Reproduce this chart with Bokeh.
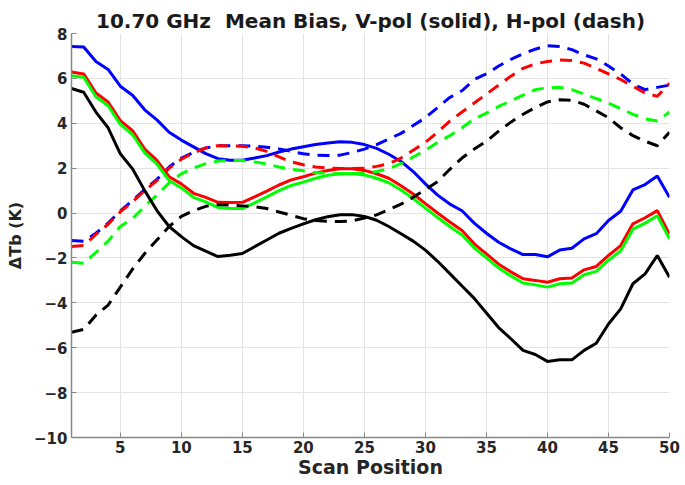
from bokeh.plotting import figure
from bokeh.embed import file_html
from bokeh.resources import INLINE
from bokeh.models import FixedTicker

scan = list(range(1, 51))

blue_v = [7.42, 7.40, 6.75, 6.40, 5.65, 5.25, 4.60, 4.15, 3.60, 3.25,
          2.95, 2.65, 2.42, 2.35, 2.35, 2.45, 2.56, 2.72, 2.85, 2.95,
          3.05, 3.12, 3.18, 3.15, 3.05, 2.88, 2.62, 2.30, 1.85, 1.30,
          0.80, 0.40, 0.10, -0.45, -0.90, -1.30, -1.60, -1.85, -1.85, -1.95,
          -1.65, -1.57, -1.15, -0.92, -0.33, 0.08, 1.03, 1.27, 1.65, 0.70]
red_v = [6.28, 6.20, 5.35, 4.95, 4.12, 3.67, 2.85, 2.35, 1.62, 1.30,
         0.88, 0.70, 0.48, 0.47, 0.48, 0.72, 0.98, 1.25, 1.48, 1.62,
         1.78, 1.90, 1.97, 1.97, 1.90, 1.75, 1.55, 1.22, 0.85, 0.42,
         0.00, -0.40, -0.78, -1.37, -1.82, -2.28, -2.62, -2.93, -3.00, -3.08,
         -2.93, -2.89, -2.53, -2.38, -1.89, -1.45, -0.48, -0.21, 0.11, -0.95]
green_v = [6.12, 6.05, 5.18, 4.78, 3.95, 3.50, 2.68, 2.18, 1.45, 1.12,
           0.70, 0.50, 0.25, 0.20, 0.20, 0.45, 0.72, 1.00, 1.23, 1.38,
           1.55, 1.68, 1.75, 1.76, 1.70, 1.55, 1.35, 1.03, 0.65, 0.22,
           -0.20, -0.60, -0.98, -1.55, -2.00, -2.45, -2.80, -3.12, -3.20, -3.30,
           -3.15, -3.12, -2.75, -2.60, -2.10, -1.68, -0.72, -0.45, -0.12, -1.15]
black_v = [5.55, 5.38, 4.50, 3.80, 2.64, 1.97, 1.00, 0.11, -0.60, -1.05,
           -1.45, -1.70, -1.94, -1.88, -1.80, -1.50, -1.20, -0.90, -0.68, -0.48,
           -0.30, -0.16, -0.08, -0.07, -0.15, -0.32, -0.60, -0.92, -1.25, -1.65,
           -2.15, -2.70, -3.25, -3.80, -4.45, -5.10, -5.60, -6.12, -6.30, -6.61,
           -6.54, -6.54, -6.12, -5.80, -4.94, -4.27, -3.15, -2.71, -1.89, -2.86]

blue_h = [-1.22, -1.26, -0.90, -0.45, 0.10, 0.55, 1.05, 1.50, 2.05, 2.45,
          2.70, 2.90, 3.00, 3.00, 3.00, 2.98, 2.93, 2.86, 2.75, 2.64,
          2.58, 2.56, 2.58, 2.70, 2.85, 3.05, 3.30, 3.55, 3.90, 4.25,
          4.70, 5.15, 5.45, 5.95, 6.20, 6.55, 6.85, 7.10, 7.30, 7.46,
          7.42, 7.28, 7.05, 6.87, 6.55, 6.20, 5.75, 5.50, 5.60, 5.70]
red_h = [-1.49, -1.45, -0.95, -0.50, 0.05, 0.50, 1.00, 1.45, 2.00, 2.40,
         2.68, 2.90, 3.00, 3.00, 2.98, 2.90, 2.75, 2.50, 2.28, 2.15,
         2.05, 2.00, 1.98, 1.98, 2.00, 2.08, 2.20, 2.45, 2.80, 3.15,
         3.60, 4.10, 4.50, 4.90, 5.30, 5.70, 6.10, 6.45, 6.65, 6.75,
         6.82, 6.80, 6.68, 6.45, 6.20, 5.95, 5.65, 5.35, 5.20, 5.78]
green_h = [-2.19, -2.24, -1.75, -1.25, -0.60, -0.25, 0.30, 0.80, 1.35, 1.75,
           2.00, 2.20, 2.32, 2.34, 2.34, 2.28, 2.19, 2.05, 1.95, 1.88,
           1.80, 1.76, 1.75, 1.75, 1.77, 1.85, 1.98, 2.20, 2.50, 2.80,
           3.15, 3.45, 3.80, 4.20, 4.45, 4.75, 5.00, 5.25, 5.50, 5.58,
           5.60, 5.50, 5.30, 5.10, 4.90, 4.65, 4.40, 4.20, 4.10, 4.50]
black_h = [-5.31, -5.18, -4.55, -4.10, -3.30, -2.50, -1.80, -1.20, -0.60, -0.15,
           0.11, 0.30, 0.38, 0.35, 0.32, 0.28, 0.20, 0.05, -0.10, -0.25,
           -0.33, -0.37, -0.38, -0.35, -0.22, -0.08, 0.15, 0.40, 0.70, 1.05,
           1.40, 1.95, 2.45, 2.85, 3.20, 3.65, 4.05, 4.40, 4.70, 4.95,
           5.05, 5.02, 4.85, 4.55, 4.25, 3.80, 3.45, 3.20, 3.00, 3.60]

x_ticks = [5, 10, 15, 20, 25, 30, 35, 40, 45, 50]
y_ticks = [-10, -8, -6, -4, -2, 0, 2, 4, 6, 8]

FONT = "DejaVu Sans"

p = figure(width=685, height=485, x_range=(1, 50), y_range=(-10, 8),
           output_backend="svg", toolbar_location=None,
           min_border_left=71, min_border_right=16, min_border_top=33,
           min_border_bottom=48,
           title="10.70 GHz\u00a0\u00a0Mean Bias, V-pol (solid), H-pol (dash)")
p.title.align = "center"
p.title.text_font = FONT
p.title.text_font_size = "20px"
p.title.text_font_style = "bold"
p.title.text_color = "#1a1a1a"
p.title.standoff = 1
p.outline_line_color = None

for ax in (p.xaxis, p.yaxis):
    ax.major_label_text_font = FONT
    ax.major_label_text_font_style = "bold"
    ax.major_label_text_font_size = "15px"
    ax.major_label_text_color = "#262626"
    ax.axis_line_color = "#888888"
    ax.axis_line_width = 1.5
    ax.major_tick_line_color = "#888888"
    ax.major_tick_in = 5
    ax.major_tick_out = 0
    ax.minor_tick_line_color = None
    ax.axis_label_text_font = FONT
    ax.axis_label_text_font_style = "bold"
    ax.axis_label_text_color = "#262626"

p.xaxis.ticker = FixedTicker(ticks=x_ticks)
p.yaxis.ticker = FixedTicker(ticks=y_ticks)
p.xaxis.axis_label = "Scan Position"
p.yaxis.axis_label = "\u0394Tb (K)"
p.xaxis.axis_label_text_font_size = "19px"
p.yaxis.axis_label_text_font_size = "16px"
p.xaxis.axis_label_standoff = 0
p.yaxis.axis_label_standoff = 6
p.xaxis.major_label_standoff = 3
p.yaxis.major_label_standoff = 4

p.xgrid.grid_line_color = "#e3e3e3"
p.ygrid.grid_line_color = "#e3e3e3"

colors = ["#0000ff", "#ff0000", "#00ff00", "#000000"]
h_series = [blue_h, red_h, green_h, black_h]
v_series = [blue_v, red_v, green_v, black_v]

for c, h, v in zip(colors, h_series, v_series):
    p.line(scan, h, line_color=c, line_width=3, line_dash="12 8")
    p.line(scan, v, line_color=c, line_width=3)

open("out.html", "w").write(file_html(p, INLINE))
